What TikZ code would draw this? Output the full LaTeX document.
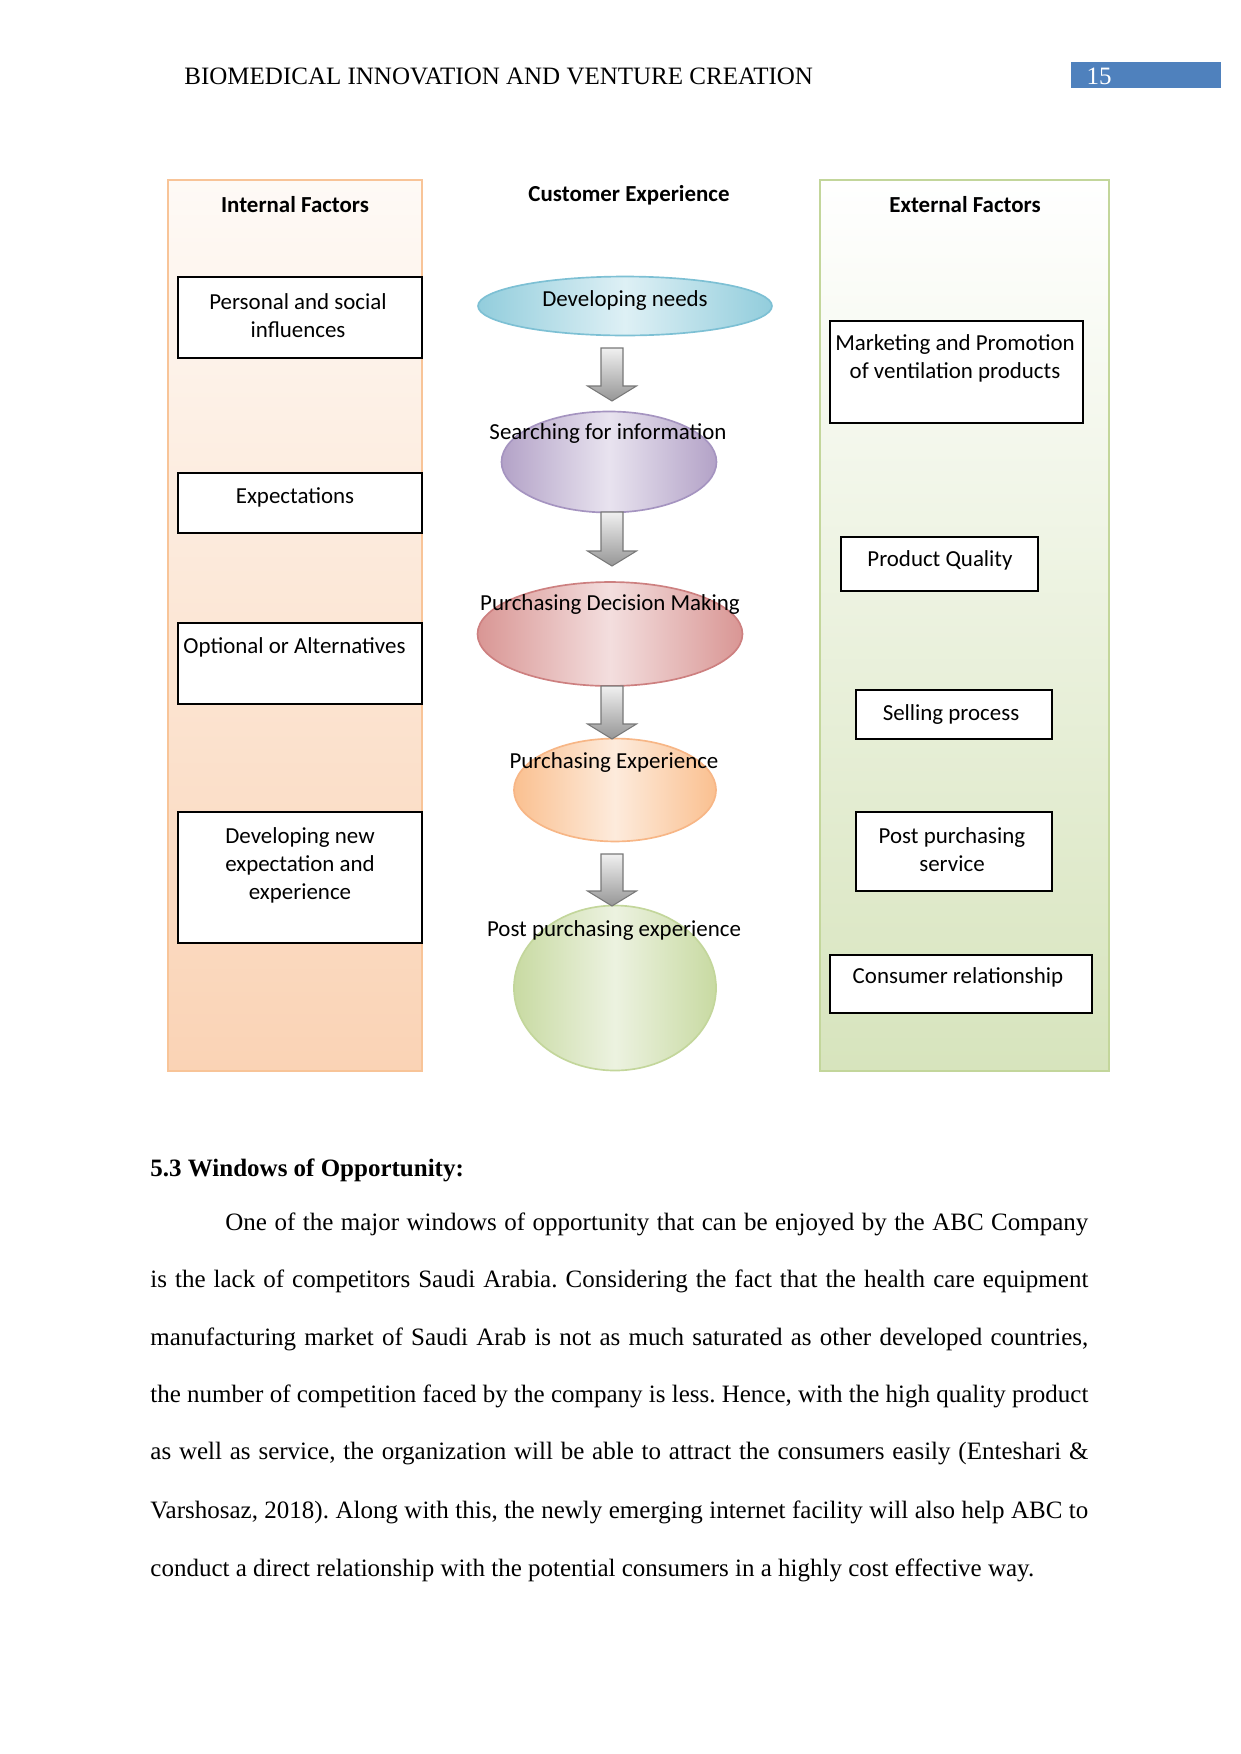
\documentclass[tikz,border=0pt]{standalone}
\usepackage{fontspec}
\setmainfont{Liberation Serif}
\newfontfamily\calfont{Carlito}
\usetikzlibrary{shapes.geometric}
\frenchspacing
\definecolor{pnum}{RGB}{79,129,189}
\definecolor{intTop}{RGB}{254,250,246}
\definecolor{intBot}{RGB}{250,211,181}
\definecolor{intEdge}{RGB}{248,196,152}
\definecolor{extTop}{RGB}{255,255,255}
\definecolor{extBot}{RGB}{215,228,189}
\definecolor{extEdge}{RGB}{195,214,155}
\definecolor{cyD}{RGB}{146,205,220}\definecolor{cyL}{RGB}{222,240,245}\definecolor{cyE}{RGB}{125,192,212}
\definecolor{puD}{RGB}{179,162,199}\definecolor{puL}{RGB}{232,227,239}\definecolor{puE}{RGB}{165,148,192}
\definecolor{reD}{RGB}{217,150,148}\definecolor{reL}{RGB}{243,222,222}\definecolor{reE}{RGB}{205,128,128}
\definecolor{orD}{RGB}{250,192,144}\definecolor{orL}{RGB}{253,235,220}\definecolor{orE}{RGB}{247,182,134}
\definecolor{grD}{RGB}{200,218,162}\definecolor{grL}{RGB}{236,242,224}\definecolor{grE}{RGB}{195,214,155}
\definecolor{arD}{RGB}{150,150,150}\definecolor{arL}{RGB}{240,240,240}
\tikzset{
  x=0.48pt, y=-0.48pt,
  ftxt/.style={font=\calfont\fontsize{11}{13.4}\selectfont, inner sep=0pt, align=center},
  ttl/.style={font=\calfont\bfseries\fontsize{11}{13.4}\selectfont, inner sep=0pt},
  fbox/.style={draw=black, line width=0.5pt, fill=white},
  ell/.style={ellipse, inner sep=0pt, line width=0.8pt, shading angle=35},
  body/.style={font=\fontsize{12}{14}\selectfont, inner sep=0pt, anchor=west},
}
\newcommand{\blockarr}[3]{% x, ytop, ybottom
  \draw[draw=arD!80!black, line width=0.5pt, top color=arL, bottom color=arD]
    (#1-11,#2) -- (#1+11,#2) -- (#1+11,#3-15) -- (#1+24.5,#3-15) -- (#1,#3)
    -- (#1-24.5,#3-15) -- (#1-11,#3-15) -- cycle;}
\begin{document}
\begin{tikzpicture}
\useasboundingbox (0,0) rectangle (1241,1754);
% header
\node[font=\fontsize{12}{14}\selectfont, inner sep=0pt, anchor=west] (hdr) at (184,76) {BIOMEDICAL INNOVATION AND VENTURE CREATION};
\fill[pnum] (1071,62) rectangle (1221,88);
\node[font=\fontsize{12}{14}\selectfont, text=white, inner sep=0pt] (pg) at (1099,76) {15};
% panels
\draw[draw=intEdge, line width=1pt, top color=intTop, bottom color=intBot] (168,180) rectangle (422,1071);
\draw[draw=extEdge, line width=1pt, top color=extTop, bottom color=extBot] (820,180) rectangle (1109,1071);
% titles
\node[ttl] (tint) at (295,205) {Internal Factors};
\node[ttl] (tcus) at (629,195) {Customer Experience};
\node[ttl] (text) at (965,205) {External Factors};
% internal boxes
\draw[fbox] (178,277) rectangle (422,358);
\node[ftxt] (i1) at (298,316) {Personal and social\\influences};
\draw[fbox] (178,473) rectangle (422,533);
\node[ftxt] (i2) at (295,497) {Expectations};
\draw[fbox] (178,623) rectangle (422,704);
\node[ftxt, anchor=west] (i3) at (183,647) {Optional or Alternatives};
\draw[fbox] (178,812) rectangle (422,943);
\node[ftxt] (i4) at (300,865) {Developing new\\expectation and\\experience};
% external boxes
\draw[fbox] (830,321) rectangle (1083,423);
\node[ftxt] (e1) at (955,358) {Marketing and Promotion\\of ventilation products};
\draw[fbox] (841,537) rectangle (1038,591);
\node[ftxt] (e2) at (940,560) {Product Quality};
\draw[fbox] (856,690) rectangle (1052,739);
\node[ftxt] (e3) at (951,714) {Selling process};
\draw[fbox] (856,812) rectangle (1052,891);
\node[ftxt] (e4) at (952,850) {Post purchasing\\service};
\draw[fbox] (830,955) rectangle (1092,1013);
\node[ftxt] (e5) at (958,977) {Consumer relationship};
% ellipses
\node[ell, draw=cyE, left color=cyD, right color=cyD, middle color=cyL, minimum width=141.1pt, minimum height=28.3pt] (c1) at (625,306) {};
\node[ftxt] (c1t) at (625,301) {Developing needs};
\node[ell, draw=puE, left color=puD, right color=puD, middle color=puL, minimum width=103.2pt, minimum height=48.5pt] (c2) at (609,462) {};
\node[ftxt] (c2t) at (608,434) {Searching for information};
\node[ell, draw=reE, left color=reD, right color=reD, middle color=reL, minimum width=127.2pt, minimum height=49.9pt] (c3) at (610,634) {};
\node[ftxt] (c3t) at (610,605) {Purchasing Decision Making};
\node[ell, draw=orE, left color=orD, right color=orD, middle color=orL, minimum width=97pt, minimum height=49.4pt] (c4) at (615,790) {};
\node[ftxt] (c4t) at (614,762) {Purchasing Experience};
\node[ell, draw=grE, left color=grD, right color=grD, middle color=grL, minimum width=97pt, minimum height=79.2pt] (c5) at (615,988) {};
\node[ftxt] (c5t) at (614,930) {Post purchasing experience};
% block arrows
\blockarr{612}{348}{401}
\blockarr{612}{512}{566}
\blockarr{612}{686}{739}
\blockarr{612}{854}{906}
% section
\node[font=\bfseries\fontsize{12}{14}\selectfont, inner sep=0pt, anchor=west] (sec) at (150,1170) {5.3 Windows of Opportunity:};
\node[body] (p1) at (225,1224) {\hbox to 414.2pt{One of the major windows of opportunity that can be enjoyed by the ABC Company}};
\node[body] (p2) at (150,1281) {\hbox to 450.2pt{is the lack of competitors Saudi Arabia. Considering the fact that the health care equipment}};
\node[body] (p3) at (150,1339) {\hbox to 450.2pt{manufacturing market of Saudi Arab is not as much saturated as other developed countries,}};
\node[body] (p4) at (150,1396) {\hbox to 450.2pt{the number of competition faced by the company is less. Hence, with the high quality product}};
\node[body] (p5) at (150,1454) {\hbox to 450.2pt{as well as service, the organization will be able to attract the consumers easily (Enteshari \&}};
\node[body] (p6) at (150,1512) {\hbox to 450.2pt{Varshosaz, 2018). Along with this, the newly emerging internet facility will also help ABC to}};
\node[body] (p7) at (150,1570) {conduct a direct relationship with the potential consumers in a highly cost effective way.};
\end{tikzpicture}
\end{document}
